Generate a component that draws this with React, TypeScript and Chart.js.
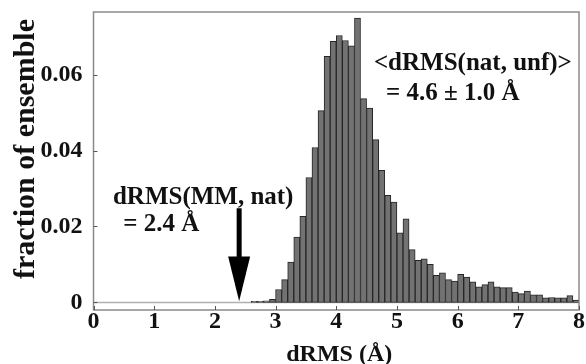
import React, { useEffect, useRef } from "react";
import { Chart, registerables } from "chart.js";

Chart.register(...registerables);

// Histogram bin centres (dRMS, Å) and fraction of ensemble in each bin
const binCenters = [
  2.65, 2.75, 2.85, 2.95, 3.05, 3.15, 3.25, 3.35, 3.45, 3.55,
  3.65, 3.75, 3.85, 3.95, 4.05, 4.15, 4.25, 4.35, 4.45, 4.55,
  4.65, 4.75, 4.85, 4.95, 5.05, 5.15, 5.25, 5.35, 5.45, 5.55,
  5.65, 5.75, 5.85, 5.95, 6.05, 6.15, 6.25, 6.35, 6.45, 6.55,
  6.65, 6.75, 6.85, 6.95, 7.05, 7.15, 7.25, 7.35, 7.45, 7.55,
  7.65, 7.75, 7.85, 7.95,
];
const fractions = [
  0.0003, 0.0003, 0.0004, 0.0008, 0.0034, 0.006, 0.0106, 0.0172, 0.0227, 0.0329,
  0.0408, 0.0505, 0.0648, 0.0688, 0.0703, 0.069, 0.0676, 0.0749, 0.0537, 0.0512,
  0.0429, 0.0348, 0.0282, 0.0264, 0.0183, 0.022, 0.0139, 0.0111, 0.0115, 0.01,
  0.0071, 0.0078, 0.006, 0.0056, 0.0074, 0.0067, 0.0054, 0.0041, 0.0047, 0.0054,
  0.0041, 0.0039, 0.0039, 0.0027, 0.0023, 0.003, 0.002, 0.002, 0.0012, 0.0013,
  0.0012, 0.0012, 0.0018, 0.0006,
];
const xTicks = [0, 1, 2, 3, 4, 5, 6, 7, 8];
const yTicks = [0, 0.02, 0.04, 0.06];
const yTickLabels = ["0", "0.02", "0.04", "0.06"];

const xTitle = "dRMS (Å)";
const yTitle = "fraction of ensemble";
const meanLabel = ["<dRMS(nat, unf)>", "= 4.6 ± 1.0 Å"];
const mmLabel = ["dRMS(MM, nat)", "= 2.4 Å"];
const mmValue = 2.4;

const FONT = "'Liberation Serif', 'DejaVu Serif', serif";

const decorPlugin = {
  id: "decor",
  beforeDatasetsDraw(chart: any) {
    const { ctx, chartArea, scales } = chart;
    const ys = scales.y;
    ctx.save();
    // baseline at y = 0
    ctx.strokeStyle = "#b0b0b0";
    ctx.lineWidth = 1.5;
    const y0 = ys.getPixelForValue(0);
    ctx.beginPath();
    ctx.moveTo(chartArea.left, y0);
    ctx.lineTo(chartArea.right, y0);
    ctx.stroke();
    ctx.restore();
  },
  afterDatasetsDraw(chart: any) {
    const { ctx, chartArea, scales } = chart;
    const xs = scales.x;
    const ys = scales.y;
    ctx.save();
    // frame
    ctx.strokeStyle = "#8a8a8a";
    ctx.lineWidth = 1.5;
    ctx.strokeRect(
      chartArea.left,
      chartArea.top,
      chartArea.right - chartArea.left,
      chartArea.bottom - chartArea.top
    );
    // inward ticks
    ctx.strokeStyle = "#555";
    ctx.lineWidth = 1;
    ctx.beginPath();
    for (const v of yTicks) {
      const p = Math.round(ys.getPixelForValue(v)) + 0.5;
      ctx.moveTo(chartArea.left, p);
      ctx.lineTo(chartArea.left + 4, p);
    }
    for (const v of xTicks) {
      const p = Math.round(xs.getPixelForValue(v)) + 0.5;
      ctx.moveTo(p, chartArea.bottom);
      ctx.lineTo(p, chartArea.bottom - 4);
    }
    ctx.stroke();

    // axis titles
    ctx.fillStyle = "#111";
    ctx.font = `bold 24px ${FONT}`;
    ctx.textAlign = "center";
    ctx.textBaseline = "alphabetic";
    ctx.fillText(xTitle, (chartArea.left + chartArea.right) / 2 + 3, 361);

    ctx.save();
    ctx.translate(34, 149);
    ctx.rotate(-Math.PI / 2);
    ctx.font = `bold 30px ${FONT}`;
    ctx.textAlign = "center";
    ctx.textBaseline = "alphabetic";
    ctx.fillText(yTitle, 0, 0);
    ctx.restore();

    // annotations
    ctx.font = `bold 25px ${FONT}`;
    ctx.textAlign = "left";
    ctx.textBaseline = "alphabetic";
    ctx.fillText(meanLabel[0], xs.getPixelForValue(4.62), ys.getPixelForValue(0.0613));
    ctx.fillText(meanLabel[1], xs.getPixelForValue(4.82), ys.getPixelForValue(0.0532));
    ctx.fillText(mmLabel[0], xs.getPixelForValue(0.32), ys.getPixelForValue(0.026));
    ctx.fillText(mmLabel[1], xs.getPixelForValue(0.49), ys.getPixelForValue(0.0189));

    // arrow
    const ax = xs.getPixelForValue(mmValue);
    const aTop = ys.getPixelForValue(0.0248);
    const aHead = ys.getPixelForValue(0.0121);
    const aTip = ys.getPixelForValue(0.0003);
    ctx.fillStyle = "#000";
    ctx.fillRect(ax - 2.5, aTop, 5, aHead - aTop + 2);
    ctx.beginPath();
    ctx.moveTo(ax - 11, aHead);
    ctx.lineTo(ax + 11, aHead);
    ctx.lineTo(ax, aTip);
    ctx.closePath();
    ctx.fill();
    ctx.restore();
  },
};

export default function App() {
  const ref = useRef<HTMLCanvasElement>(null);
  useEffect(() => {
    if (!ref.current) return;
    const chart = new Chart(ref.current, {
      type: "bar",
      data: {
        datasets: [
          {
            data: binCenters.map((x, i) => ({ x, y: fractions[i] })),
            backgroundColor: "#727272",
            borderColor: "#262626",
            borderWidth: 1,
            barPercentage: 1,
            categoryPercentage: 1,
            borderSkipped: false,
          },
        ],
      },
      options: {
        animation: false,
        responsive: false,
        layout: { padding: { left: 0, top: 12, right: 7, bottom: 0 } },
        plugins: {
          legend: { display: false },
          tooltip: { enabled: false },
        },
        scales: {
          x: {
            type: "linear",
            min: 0,
            max: 8,
            offset: false,
            grid: { display: false, drawTicks: false },
            border: { display: false },
            afterBuildTicks: (s: any) => {
              s.ticks = xTicks.map((v) => ({ value: v }));
            },
            afterFit: (s: any) => {
              s.height = 54;
              s.paddingLeft = 0;
              s.paddingRight = 0;
            },
            ticks: {
              color: "#111",
              padding: 0,
              maxRotation: 0,
              font: { family: FONT, weight: "bold", size: 24, lineHeight: 1 },
              callback: (v: any) => String(v),
            },
          },
          y: {
            min: -0.002,
            max: 0.0765,
            grid: { display: false, drawTicks: false },
            border: { display: false },
            afterBuildTicks: (s: any) => {
              s.ticks = yTicks.map((v) => ({ value: v }));
            },
            afterFit: (s: any) => {
              s.width = 93.5;
              s.paddingTop = 0;
              s.paddingBottom = 0;
            },
            ticks: {
              color: "#111",
              padding: 11,
              font: { family: FONT, weight: "bold", size: 24, lineHeight: 1 },
              callback: (v: any) => {
                const i = yTicks.findIndex((t) => Math.abs(t - v) < 1e-9);
                return i >= 0 ? yTickLabels[i] : "";
              },
            },
          },
        },
      },
      plugins: [decorPlugin],
    });
    return () => chart.destroy();
  }, []);
  return (
    <div style={{ position: "absolute", left: 0, top: 0, width: 586, height: 364, background: "#fff" }}>
      <canvas ref={ref} width={586} height={364} />
    </div>
  );
}
